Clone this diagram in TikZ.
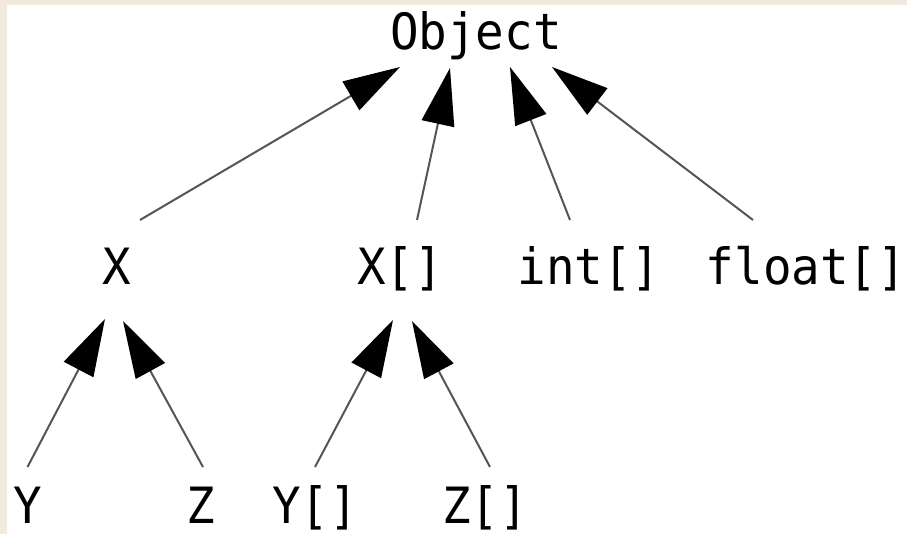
\documentclass[tikz,border=0pt]{standalone}
\usepackage{fontspec}
\setmonofont[FakeStretch=0.95]{DejaVu Sans Mono}
\usetikzlibrary{arrows.meta}
\definecolor{paper}{RGB}{243,234,223}
\definecolor{wire}{RGB}{85,85,85}
\tikzset{
  lbl/.style={anchor=base, inner sep=0pt, font=\ttfamily\fontsize{50}{50}\selectfont, text=black},
  inh/.style={draw=wire, line width=2pt,
    -{Triangle[length=57pt, width=33pt, color=black, fill=black]}},
}
\begin{document}
\begin{tikzpicture}[x=1pt, y=-1pt]
  % paper edge and white sheet
  \fill[paper] (0,0) rectangle (907,534);
  \fill[white] (7,5) rectangle (907,534);
  \useasboundingbox (0,0) rectangle (907,534);

  % type nodes
  \node[lbl] (obj) at (476,50) {Object};
  \node[lbl] (X)   at (117,285) {X};
  \node[lbl] (Xa)  at (400,285) {X[]};
  \node[lbl] (ia)  at (589,285) {int[]};
  \node[lbl] (fa)  at (806,285) {float[]};
  \node[lbl] (Y)   at (27.5,523) {Y};
  \node[lbl] (Z)   at (201,523) {Z};
  \node[lbl] (Ya)  at (315,523) {Y[]};
  \node[lbl] (Za)  at (485,523) {Z[]};

  % subtype arrows
  \draw[inh] ([shift={(23,-65)}]X.base)  -- ([shift={(-76,17)}]obj.base);
  \draw[inh] ([shift={(17,-65)}]Xa.base) -- ([shift={(-26,18)}]obj.base);
  \draw[inh] ([shift={(-19,-65)}]ia.base) -- ([shift={(34,17)}]obj.base);
  \draw[inh] ([shift={(-53,-65)}]fa.base) -- ([shift={(76,17)}]obj.base);

  \draw[inh] ([shift={(0,-56)}]Y.base)  -- ([shift={(-12,34)}]X.base);
  \draw[inh] ([shift={(2,-56)}]Z.base)  -- ([shift={(6,36)}]X.base);
  \draw[inh] ([shift={(0,-56)}]Ya.base) -- ([shift={(-7,35)}]Xa.base);
  \draw[inh] ([shift={(5,-56)}]Za.base) -- ([shift={(12,36)}]Xa.base);
\end{tikzpicture}
\end{document}
